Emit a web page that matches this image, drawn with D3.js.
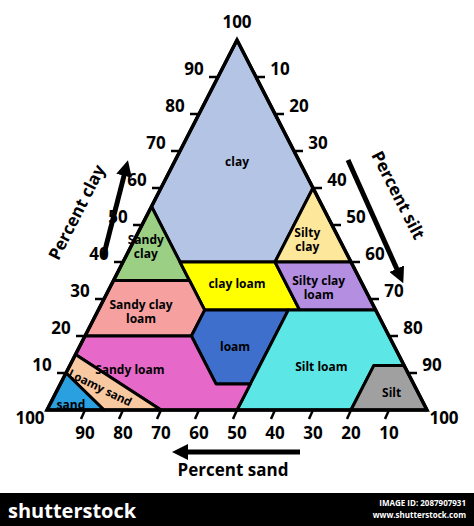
<!DOCTYPE html>
<html><head><meta charset="utf-8">
<script src="https://cdn.jsdelivr.net/npm/d3@7/dist/d3.min.js"></script>
<style>body{margin:0;background:#fff}svg{display:block}text{font-family:"Open Sans","Liberation Sans",sans-serif;font-weight:bold}</style>
</head><body><svg id="c" width="474" height="526"></svg>
<script>
// Soil classes: vertices as [clay, sand] (silt = 100 - clay - sand)
const classes = ["clay","Sandy clay","Silty clay","clay loam","Silty clay loam","Sandy clay loam","loam","Silt loam","Silt","Sandy loam","Loamy sand","sand"];
const colors = ["#b4c4e4","#9bcf84","#fde79b","#ffff00","#b48ee0","#f6a0a0","#3f6fcc","#5ce6e6","#a0a0a0","#e668c8","#f8c8a0","#2aa0e0"];
const polygons = [
 [[40,45],[55,45],[100,0],[60,0],[40,20]],
 [[35,65],[55,45],[35,45]],
 [[40,0],[60,0],[40,20]],
 [[27,45],[40,45],[40,20],[27,20]],
 [[27,20],[40,20],[40,0],[27,0]],
 [[20,80],[35,65],[35,45],[27,45],[20,52]],
 [[7,52],[20,52],[27,45],[27,23],[7,43]],
 [[0,50],[7,43],[27,23],[27,0],[12,0],[12,8],[0,20]],
 [[0,20],[12,8],[12,0],[0,0]],
 [[0,70],[15,85],[20,80],[20,52],[7,52],[7,43],[0,50]],
 [[0,85],[10,90],[15,85],[0,70]],
 [[0,100],[10,90],[0,85]]
];
const labelPos = [[67,16.5],[44,52],[46,8.5],[34,33],[33,12],[26.5,62],[17,42],[11.6,22],[4.6,7],[10.8,72.8],[6,83],[1.4,93]];
const labelLines = [["clay"],["Sandy","clay"],["Silty","clay"],["clay loam"],["Silty clay","loam"],["Sandy clay","loam"],["loam"],["Silt loam"],["Silt"],["Sandy loam"],["Loamy sand"],["sand"]];
const ticks = [10,20,30,40,50,60,70,80,90];

const svg = d3.select("#c");
const xs = d3.scaleLinear().domain([0,100]).range([47,427]);
const ys = d3.scaleLinear().domain([0,100]).range([410,40]);
const P = (c,s)=>{const silt=100-c-s;return [xs(silt+c/2), ys(c)];};

const g = svg.append("g");
polygons.forEach((poly,i)=>{
  g.append("path").attr("d", d3.line()(poly.map(p=>P(p[0],p[1])))+"Z")
   .attr("fill",colors[i]).attr("stroke","#000").attr("stroke-width",3).attr("stroke-linejoin","round");
});
g.append("path").attr("d", d3.line()([P(100,0),P(0,100),P(0,0)])+"Z").attr("fill","none").attr("stroke","#000").attr("stroke-width",3.5);

labelPos.forEach((lp,i)=>{
  const [x,y]=P(lp[0],lp[1]);
  const lines=labelLines[i];
  const t=g.append("text").attr("text-anchor","middle").attr("font-size",12).attr("fill","#000");
  if(i===10) t.attr("transform",`rotate(26 ${x} ${y})`).attr("font-size",11.5);
  lines.forEach((l,k)=>t.append("tspan").attr("x",x).attr("y",y+4+(k-(lines.length-1)/2)*14).text(l));
});

const tl = svg.append("g").attr("font-size",17).attr("fill","#000");
ticks.forEach(v=>{
  let [x,y]=P(v,100-v);
  svg.append("line").attr("x1",x).attr("y1",y).attr("x2",x-9).attr("y2",y).attr("stroke","#000").attr("stroke-width",2.5);
  tl.append("text").attr("x",x-24).attr("y",y-2).attr("text-anchor","middle").text(v);
  [x,y]=P(100-v,0);
  svg.append("line").attr("x1",x).attr("y1",y).attr("x2",x+9).attr("y2",y).attr("stroke","#000").attr("stroke-width",2.5);
  tl.append("text").attr("x",x+24).attr("y",y-2).attr("text-anchor","middle").text(v);
  [x,y]=P(0,v);
  svg.append("line").attr("x1",x).attr("y1",y).attr("x2",x-4).attr("y2",y+9).attr("stroke","#000").attr("stroke-width",2.5);
  tl.append("text").attr("x",x).attr("y",y+29).attr("text-anchor","middle").text(v);
});
tl.append("text").attr("x",237).attr("y",28).attr("text-anchor","middle").text("100");
tl.append("text").attr("x",30).attr("y",424).attr("text-anchor","middle").text("100");
tl.append("text").attr("x",444).attr("y",424).attr("text-anchor","middle").text("100");

const defs=svg.append("defs");
defs.append("marker").attr("id","ah").attr("viewBox","0 0 10 10").attr("refX",5).attr("refY",5)
 .attr("markerWidth",3.2).attr("markerHeight",3.2).attr("orient","auto")
 .append("path").attr("d","M0,0L10,5L0,10Z").attr("fill","#000");
const arrow=(x1,y1,x2,y2)=>svg.append("line").attr("x1",x1).attr("y1",y1).attr("x2",x2).attr("y2",y2)
 .attr("stroke","#000").attr("stroke-width",5).attr("marker-end","url(#ah)");
arrow(103,258,126,168);
arrow(348,160,400,276);
arrow(300,452,180,452);
svg.append("text").attr("font-size",17).attr("text-anchor","middle").attr("transform","translate(82,215) rotate(-63)").text("Percent clay");
svg.append("text").attr("font-size",17).attr("text-anchor","middle").attr("transform","translate(393,198) rotate(63)").text("Percent silt");
svg.append("text").attr("font-size",17).attr("text-anchor","middle").attr("x",233).attr("y",476).text("Percent sand");

svg.append("rect").attr("x",0).attr("y",493).attr("width",474).attr("height",33).attr("fill","#000");
svg.append("text").attr("x",8).attr("y",518).attr("fill","#fff").attr("font-size",20).text("shutterstock");
svg.append("text").attr("x",466).attr("y",506).attr("fill","#fff").attr("font-size",8).attr("font-weight","normal").attr("text-anchor","end").text("IMAGE ID: 2087907931");
svg.append("text").attr("x",466).attr("y",518).attr("fill","#fff").attr("font-size",8).attr("font-weight","normal").attr("text-anchor","end").text("www.shutterstock.com");
</script></body></html>
